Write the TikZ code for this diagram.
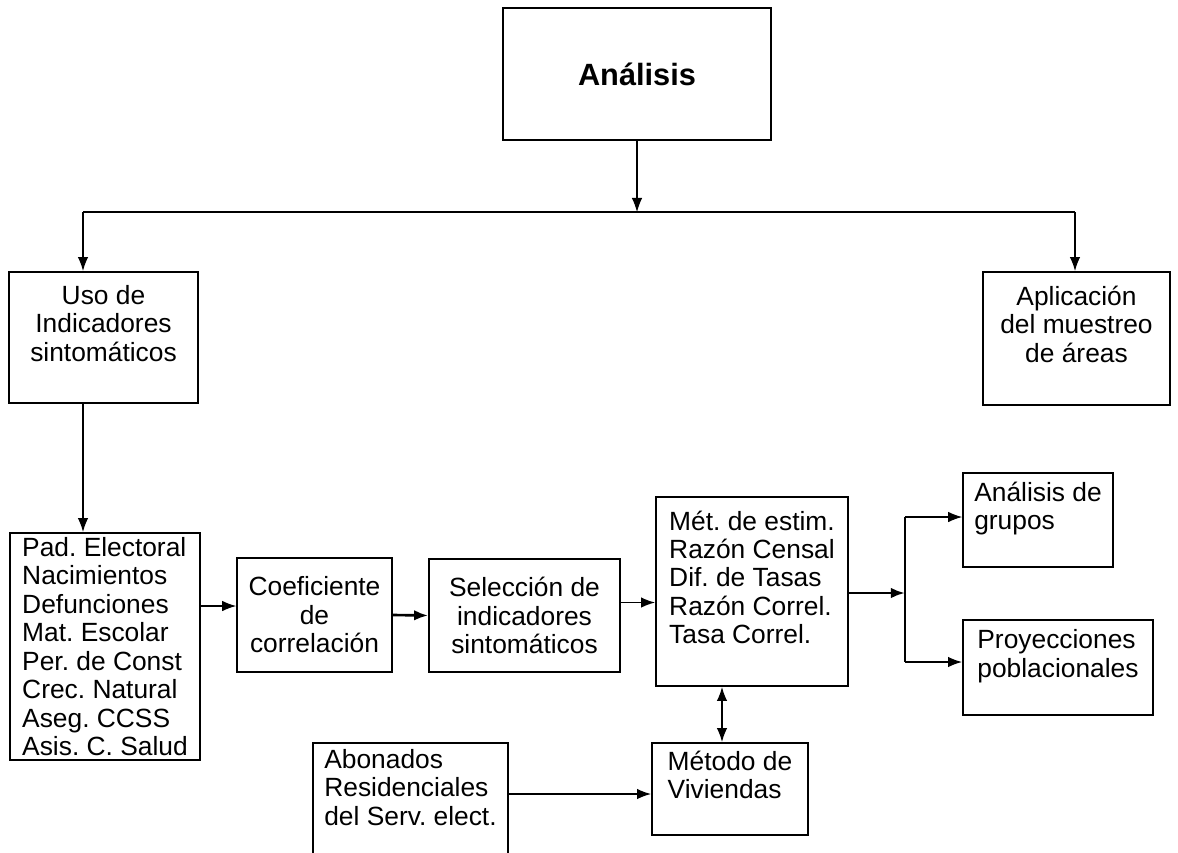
\documentclass[tikz,border=0pt]{standalone}
\usepackage{fontspec}
\setmainfont{Liberation Sans}
\frenchspacing
\usetikzlibrary{arrows.meta}
\tikzset{
  box/.style={draw, line width=1pt, align=center, inner xsep=2pt, inner ysep=1pt, font=\fontsize{15}{16.2}\selectfont},
  lbox/.style={box, align=left},
  line/.style={-{Latex[length=8pt,width=6pt]}, line width=0.9pt},
  thinline/.style={-{Latex[length=8pt,width=6pt]}, line width=0.6pt},
  thickline/.style={-{Latex[length=8pt,width=6pt]}, line width=1.5pt},
  bothline/.style={{Latex[length=8pt,width=6pt]}-{Latex[length=8pt,width=6pt]}, line width=0.9pt}
}
\begin{document}
\begin{tikzpicture}[x=0.02cm, y=-0.02cm]
    \useasboundingbox (0,0) rectangle (1178,853);

    % top level
    \node[box, minimum width=5.36cm, minimum height=2.64cm] (ana) at (637,74)
      {\fontsize{17.5}{20}\selectfont\bfseries Análisis};
    \node[box, minimum width=3.78cm, minimum height=2.62cm] (uso) at (103.5,337.5)
      {Uso de\\Indicadores\\sintomáticos\\~};
    \node[box, minimum width=3.74cm, minimum height=2.66cm] (apl) at (1076.5,338.5)
      {Aplicación\\del muestreo\\de áreas\\~};

    % indicadores
    \node[lbox, minimum width=3.8cm, minimum height=4.54cm] (pad) at (105,646.5)
      {Pad. Electoral\\Nacimientos\\Defunciones\\Mat. Escolar\\Per. de Const\\Crec. Natural\\Aseg. CCSS\\Asis. C. Salud};
    \node[box, minimum width=3.1cm, minimum height=2.28cm] (coef) at (314.5,615)
      {Coeficiente\\de\\correlación};
    \node[box, minimum width=3.82cm, minimum height=2.26cm] (sel) at (524.5,615.5)
      {Selección de\\indicadores\\sintomáticos};
    \node[lbox, minimum width=3.84cm, minimum height=3.78cm] (met) at (752,591.5)
      {Mét. de estim.\\Razón Censal\\Dif. de Tasas\\Razón Correl.\\Tasa Correl.\\~};
    \node[lbox, minimum width=3.0cm, minimum height=1.88cm] (grp) at (1038,520)
      {Análisis de\\grupos\\~};
    \node[lbox, minimum width=3.8cm, minimum height=1.9cm] (proy) at (1058,667.5)
      {Proyecciones\\poblacionales\\~};
    \node[lbox, minimum width=3.12cm, minimum height=1.84cm] (viv) at (730,789)
      {Método de\\Viviendas\\~};
    \node[lbox, minimum width=3.9cm, minimum height=2.34cm] (abo) at (410.5,801.5)
      {Abonados\\Residenciales\\del Serv. elect.\\~};

    % arrows
    \coordinate (jl) at (83,212);
    \coordinate (jr) at (1075,212);
    \draw[thinline] (ana.south) -- (ana.south |- jl);
    \draw[line width=0.9pt] (jl) -- (jr);
    \draw[line] (jl) -- (jl |- uso.north);
    \draw[line] (jr) -- (jr |- apl.north);
    \draw[line] (jl |- uso.south) -- (jl |- pad.north);

    \coordinate (c1) at ([yshift=0.18cm]coef.west);
    \draw[thinline] (pad.east |- c1) -- (c1);
    \draw[thickline] (coef.east) -- (sel.east -| sel.west);
    \coordinate (s1) at ([yshift=0.26cm]sel.east);
    \draw[line] (s1) -- (s1 -| met.west);

    \coordinate (sp) at (905,593);
    \draw[thickline] (met.east |- sp) -- (sp);
    \draw[line width=0.6pt] (905,517) -- (905,662);
    \draw[thinline] (905,517) -- (grp.west |- 905,517);
    \draw[line] (905,662) -- (proy.west |- 905,662);

    \coordinate (v1) at ([xshift=-0.16cm]viv.north);
    \draw[bothline] (v1 |- met.south) -- (v1);
    \draw[line] (abo.east |- 0,794) -- (viv.west |- 0,794);

\end{tikzpicture}
\end{document}
